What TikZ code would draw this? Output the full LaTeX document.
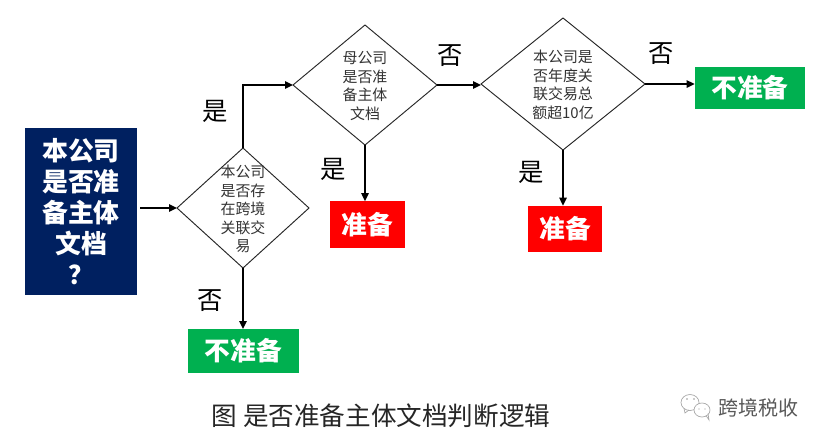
\documentclass[tikz,border=0pt]{standalone}
\usepackage{fontspec}
\setmainfont{Liberation Sans}
\newfontfamily\cjk{Noto Sans CJK SC}
\usetikzlibrary{shapes.geometric,arrows.meta}
\tikzset{
 px/.style={x=0.75pt,y=-0.75pt},
 dia/.style={draw=black!85,line width=0.7pt,fill=white,diamond,aspect=1,inner sep=0pt,outer sep=0pt},
 diatext/.style={inner sep=0pt,align=center,font=\cjk\fontsize{11.2}{13.9}\selectfont,text=black!80},
 res/.style={inner sep=0pt,outer sep=0pt,font=\cjk\bfseries\fontsize{19.3}{22}\selectfont,text=white},
 lab/.style={inner sep=0pt,font=\cjk\fontsize{19}{22}\selectfont,text=black},
 conn/.style={draw=black,line width=1.2pt,-{Triangle[length=6pt,width=5.5pt]}}
}
\begin{document}
\begin{tikzpicture}[px]
\useasboundingbox (0,0) rectangle (825,444);
\fill[white] (0,0) rectangle (825,444);
\node[fill={rgb,255:red,0;green,32;blue,96},minimum width=84pt,minimum height=125pt,inner sep=0pt,outer sep=0pt,align=center,text=white,font=\cjk\bfseries\fontsize{19.4}{23.2}\selectfont] (start) at (81,211.5) {本公司\\是否准\\备主体\\文档\\？};
\coordinate (s) at (140,208);
\node[dia,minimum width=99pt,minimum height=90pt] (d1) at (243,208) {};
\node[diatext] (t1) at (243,209) {本公司\\是否存\\在跨境\\关联交\\易};
\node[dia,minimum width=108pt,minimum height=90pt] (d2) at (365,85) {};
\node[diatext] (t2) at (365,86) {母公司\\是否准\\备主体\\文档};
\node[dia,minimum width=123pt,minimum height=99pt] (d3) at (563,84) {};
\node[diatext] (t3) at (563,85) {本公司是\\否年度关\\联交易总\\额超10亿};
\node[res,fill={rgb,255:red,0;green,176;blue,80},minimum width=83pt,minimum height=33pt] (r1) at (243.5,351) {不准备};
\node[res,fill=red,minimum width=56pt,minimum height=35pt] (r2) at (367.5,224.5) {准备};
\node[res,fill=red,minimum width=55pt,minimum height=35pt] (r3) at (565,229) {准备};
\node[res,fill={rgb,255:red,0;green,176;blue,80},minimum width=83pt,minimum height=32pt] (r4) at (750,88) {不准备};
\draw[conn] (s) -- (d1.west);
\draw[conn] (d1.north) -- (d1.north |- d2.west) -- (d2.west);
\draw[conn] (d1.south) -- (d1.south |- r1.north);
\draw[conn] (d2.east) -- (d3.west |- d2.east);
\draw[conn] (d2.south) -- (d2.south |- r2.north);
\draw[conn] (d3.south) -- (d3.south |- r3.north);
\draw[conn] (d3.east) -- (r4.west |- d3.east);
\node[lab] (l1) at (215,111) {是};
\node[lab] (l2) at (210,301) {否};
\node[lab] (l3) at (333,169) {是};
\node[lab] (l4) at (450,56) {否};
\node[lab] (l5) at (531,172) {是};
\node[lab] (l6) at (661,54) {否};
\node[inner sep=0pt,font=\cjk\fontsize{19.2}{22}\selectfont,text=black!85] (cap) at (381,416) {图 是否准备主体文档判断逻辑};
\node[inner sep=0pt,font=\cjk\fontsize{15}{18}\selectfont,text=black!65] (wm) at (758,408) {跨境税收};
% watermark icon
\draw[black!35,line width=0.5pt,fill=white] (690,402.5) ellipse (9 and 8);
\draw[black!35,line width=0.5pt] (684,408.5) -- (685,413) -- (689,410);
\draw[black!35,line width=0.5pt,fill=white] (702,410) ellipse (8 and 7);
\draw[black!35,line width=0.5pt] (706,415.5) -- (709,420) -- (708,413.5);
\fill[black!40] (687,399) circle (0.9) (694,399) circle (0.9) (699,409) circle (0.7) (705,409) circle (0.7);
\end{tikzpicture}
\end{document}
